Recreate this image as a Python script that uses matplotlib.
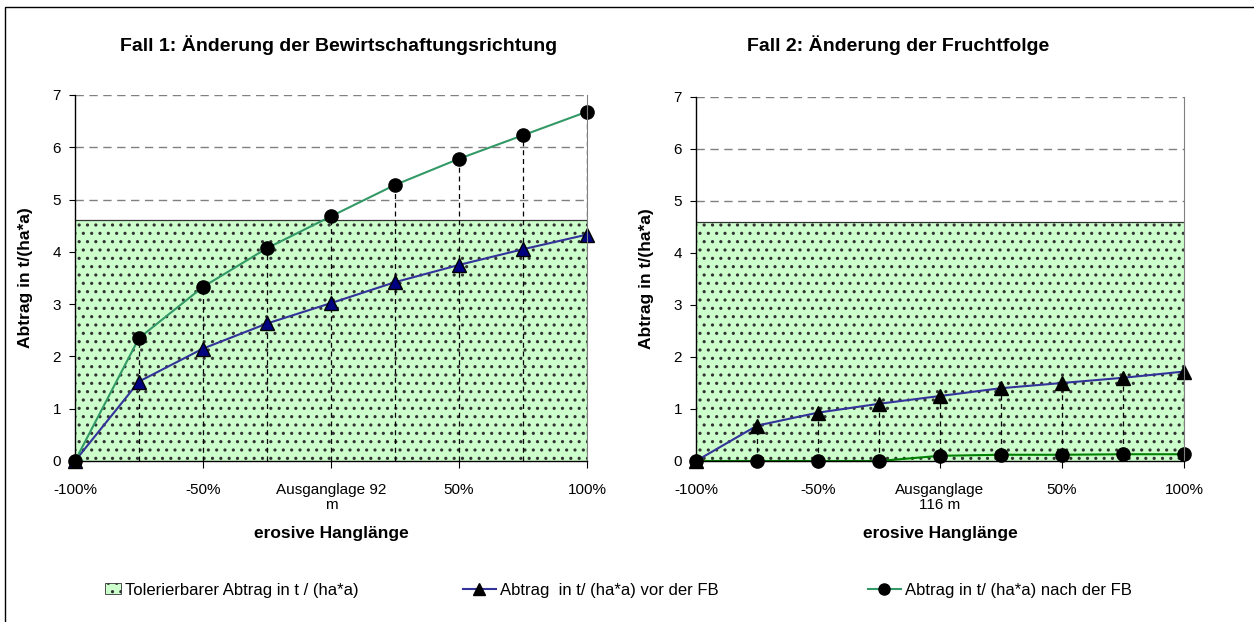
import matplotlib
matplotlib.use("Agg")
import matplotlib.pyplot as plt
from matplotlib.lines import Line2D
from matplotlib.patches import Patch, Rectangle

plt.rcParams["font.family"] = ["Liberation Sans", "DejaVu Sans"]
plt.rcParams["hatch.linewidth"] = 1.1

# ---------------------------------------------------------------------------
# data
# ---------------------------------------------------------------------------
steps = ["-100%", "-75%", "-50%", "-25%", "0%", "25%", "50%", "75%", "100%"]
labels_fall1 = ["-100%", "", "-50%", "", "Ausganglage 92\nm", "", "50%", "", "100%"]
labels_fall2 = ["-100%", "", "-50%", "", "Ausganglage\n116 m", "", "50%", "", "100%"]

tolerable = 4.6

fall1_before = [0.0, 1.52, 2.15, 2.63, 3.02, 3.42, 3.75, 4.05, 4.33]
fall1_after = [0.0, 2.35, 3.33, 4.07, 4.68, 5.28, 5.78, 6.23, 6.68]

fall2_before = [0.0, 0.68, 0.93, 1.10, 1.25, 1.40, 1.50, 1.60, 1.72]
fall2_after = [0.0, 0.0, 0.0, 0.0, 0.10, 0.12, 0.12, 0.13, 0.13]

titles = ["Fall 1: Änderung der Bewirtschaftungsrichtung",
          "Fall 2: Änderung der Fruchtfolge"]

AREA_GREEN = "#CCFFCC"
GRID_GREY = "#808080"

fig = plt.figure(figsize=(12.54, 6.22), dpi=100)

# thin frame round the whole chart (right/bottom edge fall outside the image)
fig.patches.append(Rectangle((5 / 1254, -0.1), 1.2, 1.1 - 7 / 622,
                             transform=fig.transFigure, fill=False,
                             edgecolor="black", linewidth=1.0))

ax1 = fig.add_axes([75 / 1254, 161 / 622, 512 / 1254, 366 / 622])
ax2 = fig.add_axes([696 / 1254, 161 / 622, 488 / 1254, 364 / 622])


def draw_case(ax, before, after, ticklabels, title, title_x,
              c_before, c_after, m_before):
    x = list(range(len(steps)))

    # tolerable erosion area
    ax.fill_between([x[0], x[-1]], [tolerable, tolerable], 0,
                    facecolor=AREA_GREEN, edgecolor="#333333", hatch="..",
                    linewidth=0, zorder=2)
    ax.plot([x[0], x[-1]], [tolerable, tolerable], color="#333333", lw=0.9, zorder=2.5)

    # horizontal dashed gridlines (hidden behind the area below the limit)
    for yv in range(1, 8):
        ax.axhline(yv, color=GRID_GREY, lw=1.0, ls=(0, (6, 4)), zorder=1)

    # drop lines
    for xi, b, a in zip(x, before, after):
        top = max(b, a)
        if top > 0 and xi > 0:
            ax.plot([xi, xi], [0, top], color="black", lw=0.9,
                    ls=(0, (4, 3)), zorder=3)

    ax.plot(x, before, color=c_before, lw=1.5, marker="^", markersize=9.5,
            markerfacecolor=m_before, markeredgecolor="black", zorder=4, clip_on=False)
    ax.plot(x, after, color=c_after, lw=1.5, marker="o", markersize=9.5,
            markerfacecolor="black", markeredgecolor="black", zorder=5, clip_on=False)

    ax.set_xlim(x[0], x[-1])
    ax.set_ylim(0, 7)
    ax.set_yticks(range(0, 8))
    ax.set_xticks(x[::2])
    ax.set_xticklabels(ticklabels[::2], fontsize=11, linespacing=1.05)
    ax.tick_params(axis="y", labelsize=11, direction="out", length=4, width=0.8, pad=6)
    ax.tick_params(axis="x", direction="out", length=5, width=0.8, pad=11)

    ax.spines["top"].set_visible(False)
    ax.spines["right"].set_color(GRID_GREY)
    ax.spines["right"].set_linewidth(0.8)
    ax.spines["left"].set_linewidth(1.0)
    ax.spines["bottom"].set_linewidth(1.0)
    for s in ax.spines.values():
        s.set_zorder(6)

    ax.set_ylabel("Abtrag in t/(ha*a)", fontsize=12.5, fontweight="bold", labelpad=14)
    ax.set_xlabel("erosive Hanglänge", fontsize=12.5, fontweight="bold", labelpad=10)
    # title is centred on the chart area, not on the plot area
    fig.text(title_x / 1254, 1 - 45 / 622, title, fontsize=14, fontweight="bold",
             ha="center", va="center")


draw_case(ax1, fall1_before, fall1_after, labels_fall1, titles[0], 339,
          "#333399", "#339966", "#000080")
draw_case(ax2, fall2_before, fall2_after, labels_fall2, titles[1], 898,
          "#333399", "#008000", "black")

# legend
h_area = Patch(facecolor=AREA_GREEN, edgecolor="#333333", hatch="..", linewidth=0.6)
h_before = Line2D([], [], color="#333399", lw=1.5, marker="^", markersize=8,
                  markerfacecolor="black", markeredgecolor="black")
h_after = Line2D([], [], color="#339966", lw=1.5, marker="o", markersize=8,
                 markerfacecolor="black", markeredgecolor="black")

legend_items = [
    (h_area, "Tolerierbarer Abtrag in t / (ha*a)", 105, 0.95),
    (h_before, "Abtrag  in t/ (ha*a) vor der FB", 463, 1.95),
    (h_after, "Abtrag in t/ (ha*a) nach der FB", 868, 1.95),
]
for handle, text, xpix, hlen in legend_items:
    fig.legend([handle], [text], loc="center left",
               bbox_to_anchor=(xpix / 1254, 1 - 590 / 622),
               frameon=False, fontsize=12, handlelength=hlen, handleheight=0.6,
               handletextpad=0.25, borderaxespad=0, borderpad=0)

fig.savefig("out.png", dpi=100)
